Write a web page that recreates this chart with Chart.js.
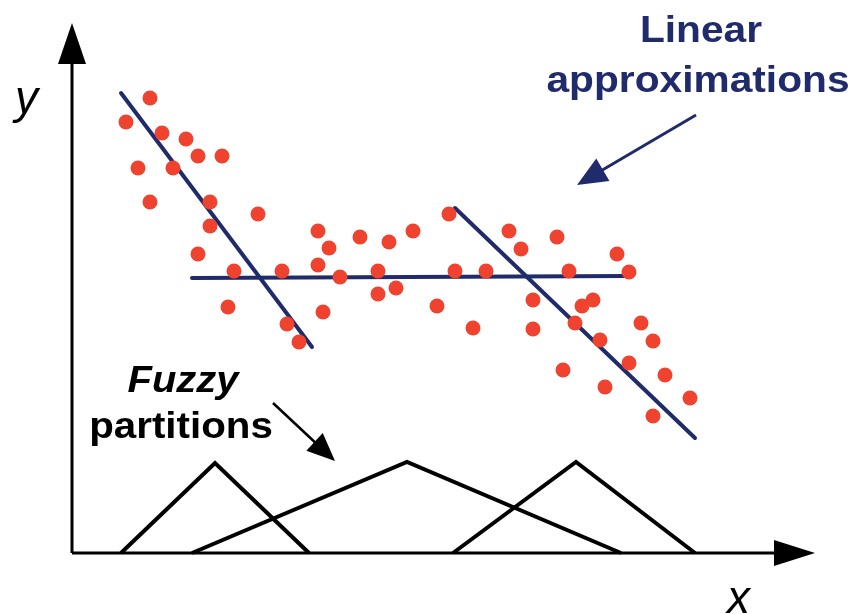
<!DOCTYPE html>
<html>
<head>
<meta charset="utf-8">
<script src="https://cdn.jsdelivr.net/npm/chart.js@4/dist/chart.umd.min.js"></script>
<style>
html,body{margin:0;padding:0;background:#fff;overflow:hidden;}
#wrap{width:860px;height:614px;}
</style>
</head>
<body>
<div id="wrap"><canvas id="c" width="860" height="614"></canvas></div>
<script>
// ---- data (x measured from the origin rightwards, y from the x-axis upwards) ----
const sampleX = [78,54,90,114,126,150,66,101,78,138,186,138,246,257,126,246,162,210,268,156,251,215,227,
                 288,317,341,377,306,383,414,306,324,365,401,
                 437,485,449,545,497,557,461,510,521,461,503,569,528,581,557,491,593,533,618,581];
const sampleY = [455,431,420,414,397,397,385,385,351,351,339,327,322,305,299,288,282,282,276,246,241,229,211,
                 316,311,322,339,282,282,282,259,265,247,225,
                 322,316,304,299,282,281,253,247,253,224,230,230,213,212,190,183,178,166,155,137];

// linear approximations: [x0, y0, x1, y1]
const fitLine1 = [49,460,240,206];
const fitLine2 = [120,275,555,277];
const fitLine3 = [383,345,623,115];

// fuzzy partitions (triangular membership functions): [left, peakX, right], peak height
const partition1 = [49,143,237];
const partition2 = [120,335,549];
const partition3 = [381,504,623];
const partitionPeak = [90,91,91];

// axes extents
const axisXEnd = 743;
const axisYEnd = 530;

const NAVY = '#1f2b6b';
const RED = '#ef4330';

function seg(a){ return [{x:a[0],y:a[1]},{x:a[2],y:a[3]}]; }
function tri(p,h){ return [{x:p[0],y:0},{x:p[1],y:h},{x:p[2],y:0}]; }

const points = sampleX.map((x,i)=>({x:x,y:sampleY[i]}));

function lineDs(data,color,w,cap){
  return {type:'scatter',data:data,showLine:true,borderColor:color,borderWidth:w,pointRadius:0,
          borderCapStyle:cap||'butt',borderJoinStyle:'miter',fill:false,tension:0};
}

const decor = {
  id:'decor',
  afterDatasetsDraw(chart){
    const ctx = chart.ctx, xs = chart.scales.x, ys = chart.scales.y;
    const px = v=>xs.getPixelForValue(v), py = v=>ys.getPixelForValue(v);
    ctx.save();
    // axis arrowheads
    ctx.fillStyle = '#000';
    ctx.beginPath();
    ctx.moveTo(px(0), py(axisYEnd));
    ctx.lineTo(px(0)-14, py(axisYEnd)+41);
    ctx.lineTo(px(0)+14, py(axisYEnd)+41);
    ctx.closePath(); ctx.fill();
    ctx.beginPath();
    ctx.moveTo(px(axisXEnd), py(0));
    ctx.lineTo(px(axisXEnd)-41, py(0)-13);
    ctx.lineTo(px(axisXEnd)-41, py(0)+13);
    ctx.closePath(); ctx.fill();

    function arrow(x0,y0,x1,y1,color,w,len,half){
      const X0=px(x0),Y0=py(y0),X1=px(x1),Y1=py(y1);
      const ang=Math.atan2(Y1-Y0,X1-X0);
      const bx=X1-len*Math.cos(ang), by=Y1-len*Math.sin(ang);
      ctx.strokeStyle=color; ctx.lineWidth=w; ctx.lineCap='butt';
      ctx.beginPath(); ctx.moveTo(X0,Y0); ctx.lineTo(bx+2*Math.cos(ang),by+2*Math.sin(ang)); ctx.stroke();
      ctx.fillStyle=color;
      ctx.beginPath();
      ctx.moveTo(X1,Y1);
      ctx.lineTo(bx+half*Math.sin(ang), by-half*Math.cos(ang));
      ctx.lineTo(bx-half*Math.sin(ang), by+half*Math.cos(ang));
      ctx.closePath(); ctx.fill();
    }
    arrow(624,438,505,368,NAVY,3,30,13);
    arrow(201,150,263,92,'#000',2.5,28,12);

    function text(str,x,y,font,color,sx){
      ctx.save();
      ctx.font=font; ctx.fillStyle=color; ctx.textBaseline='alphabetic'; ctx.textAlign='center';
      ctx.translate(px(x),py(y)); ctx.scale(sx||1,1);
      ctx.fillText(str,0,0);
      ctx.restore();
    }
    const F='"Liberation Sans", Arial, sans-serif';
    text('Linear',629,511,'bold 37px '+F,NAVY,1.1);
    text('approximations',626,461,'bold 37px '+F,NAVY,1.1);
    text('Fuzzy',111,161,'italic bold 37px '+F,'#000',1.08);
    text('partitions',109,115,'bold 37px '+F,'#000',1.09);
    ctx.textAlign='left';
    ctx.font='italic 46px '+F; ctx.fillStyle='#000';
    ctx.fillText('y',px(-57),py(440));
    ctx.fillText('x',px(655),py(-60));
    ctx.restore();
  }
};

new Chart(document.getElementById('c'),{
  type:'scatter',
  data:{datasets:[
    lineDs([{x:0,y:0},{x:0,y:axisYEnd-38}],'#000',3),
    lineDs([{x:0,y:0},{x:axisXEnd-38,y:0}],'#000',3),
    lineDs(tri(partition1,partitionPeak[0]),'#000',4),
    lineDs(tri(partition2,partitionPeak[1]),'#000',4),
    lineDs(tri(partition3,partitionPeak[2]),'#000',4),
    {type:'scatter',data:points,backgroundColor:RED,borderWidth:0,pointRadius:7.5,pointHoverRadius:7.5},
    lineDs(seg(fitLine1),NAVY,4,'round'),
    lineDs(seg(fitLine2),NAVY,4,'round'),
    lineDs(seg(fitLine3),NAVY,4,'round')
  ]},
  options:{
    responsive:false,animation:false,
    layout:{padding:0,autoPadding:false},
    plugins:{legend:{display:false},tooltip:{enabled:false}},
    events:[],
    scales:{
      x:{type:'linear',min:-72,max:788,display:false},
      y:{type:'linear',min:-61,max:553,display:false}
    }
  },
  plugins:[decor]
});
</script>
</body>
</html>
